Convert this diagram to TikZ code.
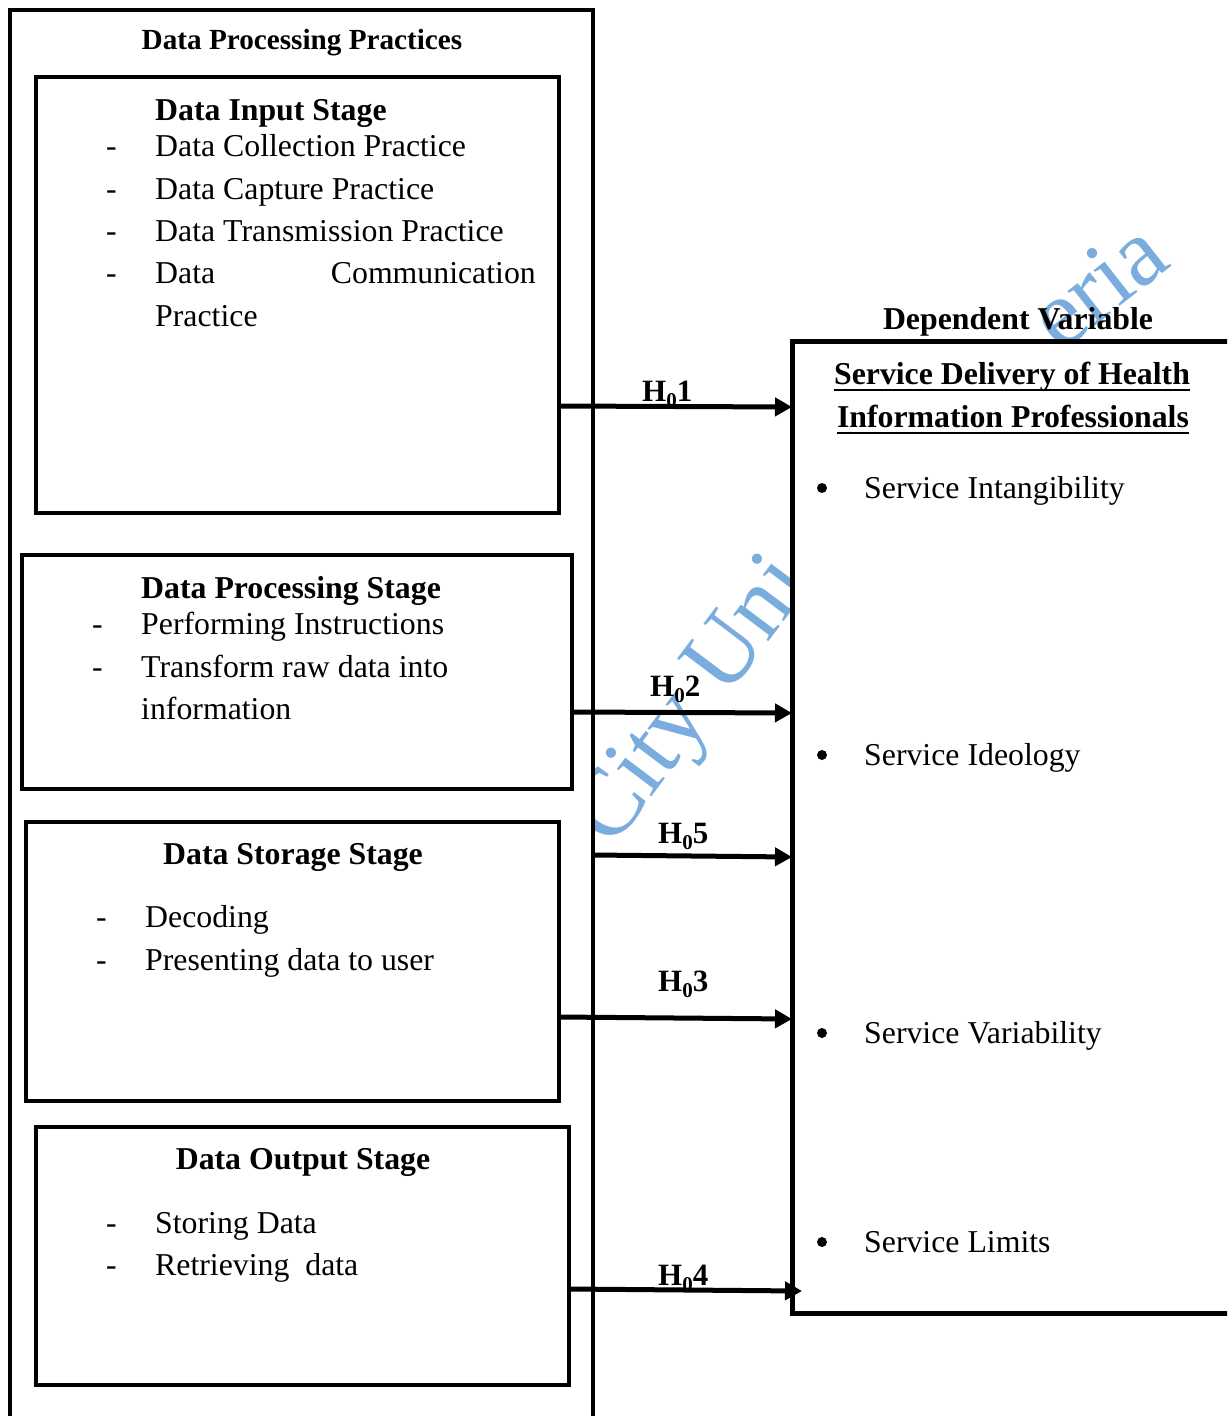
\documentclass[tikz,border=0pt]{standalone}
\usepackage{fontspec}
\setmainfont{Liberation Serif}
\usetikzlibrary{arrows.meta}
\definecolor{wmblue}{RGB}{122,172,222}
\newcommand{\Hsub}[1]{\textbf{H\raisebox{-6pt}{\fontsize{21}{21}\selectfont 0}#1}}
\begin{document}
\begin{tikzpicture}[x=1pt,y=-1pt,
  box/.style={draw, line width=4pt, fill=white, inner sep=0pt, outer sep=0pt},
  txt/.style={inner sep=0pt, anchor=base west, font=\fontsize{31.8}{38}\selectfont},
  btxt/.style={inner sep=0pt, anchor=base west, font=\bfseries\fontsize{31.8}{38}\selectfont},
  ctitle/.style={inner sep=0pt, anchor=base, font=\bfseries\fontsize{31.8}{38}\selectfont},
  hlab/.style={inner sep=0pt, anchor=base west, font=\bfseries\fontsize{31}{38}\selectfont},
  wm/.style={inner sep=0pt, anchor=base west, text=wmblue, font=\fontsize{96}{96}\selectfont},
  arr/.style={line width=5pt, -{Triangle[length=17pt,width=18pt]}},
  uline/.style={line width=2.5pt}]
\useasboundingbox (0,0) rectangle (1227,1416);
\clip (0,0) rectangle (1227,1416);
\fill[white] (0,0) rectangle (1227,1416);
% watermark
\node[wm, rotate=53] (wma) at (612,850) {City Uni};
\node[wm, rotate=38] (wmb) at (1060,354) {eria};
% outer box
\node[box, minimum width=583pt, minimum height=1440pt] (outer) at (301.5,730) {};
\node[inner sep=0pt, anchor=base, font=\bfseries\fontsize{29.2}{34}\selectfont] (ttl) at (302,49) {Data Processing Practices};
% right box
\node[box, line width=5pt, minimum width=480pt, minimum height=972pt] (dv) at (1032,827) {};
\node[ctitle] (dvt) at (1018,329) {Dependent Variable};
\node[ctitle] (sd1) at (1012,384) {Service Delivery of Health};
\node[ctitle] (sd2) at (1013,427) {Information Professionals};
\draw[uline] ([yshift=-6pt]sd1.base west) -- ([yshift=-6pt]sd1.base east);
\draw[uline] ([yshift=-6pt]sd2.base west) -- ([yshift=-6pt]sd2.base east);
\foreach \y/\t [count=\i] in {498/Service Intangibility, 765/Service Ideology, 1043/Service Variability, 1252/Service Limits}{
  \fill (822,\y-10) circle (5pt);
  \node[txt] (sv\i) at (864,\y) {\t};
}
% box 1
\node[box, minimum width=523pt, minimum height=436pt] (b1) at (297.5,295) {};
\node[btxt] (b1t) at (155,120) {Data Input Stage};
\foreach \y/\t [count=\i] in {156/Data Collection Practice, 199/Data Capture Practice, 241/Data Transmission Practice}{
  \node[txt] (b1d\i) at (106,\y) {-};
  \node[txt] (b1i\i) at (155,\y) {\t};
}
\node[txt] (b1d4) at (106,283) {-};
\node[txt] (b1i4) at (155,283) {Data};
\node[txt, anchor=base east] (b1i4b) at (536,283) {Communication};
\node[txt] (b1i5) at (155,326) {Practice};
% box 2
\node[box, minimum width=550pt, minimum height=234pt] (b2) at (297,672) {};
\node[btxt] (b2t) at (141,598) {Data Processing Stage};
\node[txt] (b2d1) at (92,634) {-};
\node[txt] (b2i1) at (141,634) {Performing Instructions};
\node[txt] (b2d2) at (92,677) {-};
\node[txt] (b2i2) at (141,677) {Transform raw data into};
\node[txt] (b2i3) at (141,719) {information};
% box 3
\node[box, minimum width=533pt, minimum height=279pt] (b3) at (292.5,961.5) {};
\node[ctitle] (b3t) at (293,864) {Data Storage Stage};
\node[txt] (b3d1) at (96,927) {-};
\node[txt] (b3i1) at (145,927) {Decoding};
\node[txt] (b3d2) at (96,970) {-};
\node[txt] (b3i2) at (145,970) {Presenting data to user};
% box 4
\node[box, minimum width=533pt, minimum height=258pt] (b4) at (302.5,1256) {};
\node[ctitle] (b4t) at (303,1169) {Data Output Stage};
\node[txt] (b4d1) at (106,1233) {-};
\node[txt] (b4i1) at (155,1233) {Storing Data};
\node[txt] (b4d2) at (106,1275) {-};
\node[txt] (b4i2) at (155,1275) {Retrieving\ \ data};
% arrows
\draw[arr] (b1.east |- 0,406) -- (dv.west |- 0,407);
\draw[arr] (b2.east |- 0,712) -- (dv.west |- 0,713);
\draw[arr] (outer.east |- 0,855) -- (dv.west |- 0,857);
\draw[arr] (b3.east |- 0,1017) -- (dv.west |- 0,1019);
\draw[arr] (b4.east |- 0,1289) -- ([xshift=10pt]dv.west |- 0,1291);
\node[hlab] (h1) at (642,401) {\Hsub{1}};
\node[hlab] (h2) at (650,696) {\Hsub{2}};
\node[hlab] (h5) at (658,843) {\Hsub{5}};
\node[hlab] (h3) at (658,991) {\Hsub{3}};
\node[hlab] (h4) at (658,1285) {\Hsub{4}};
\end{tikzpicture}
\end{document}
